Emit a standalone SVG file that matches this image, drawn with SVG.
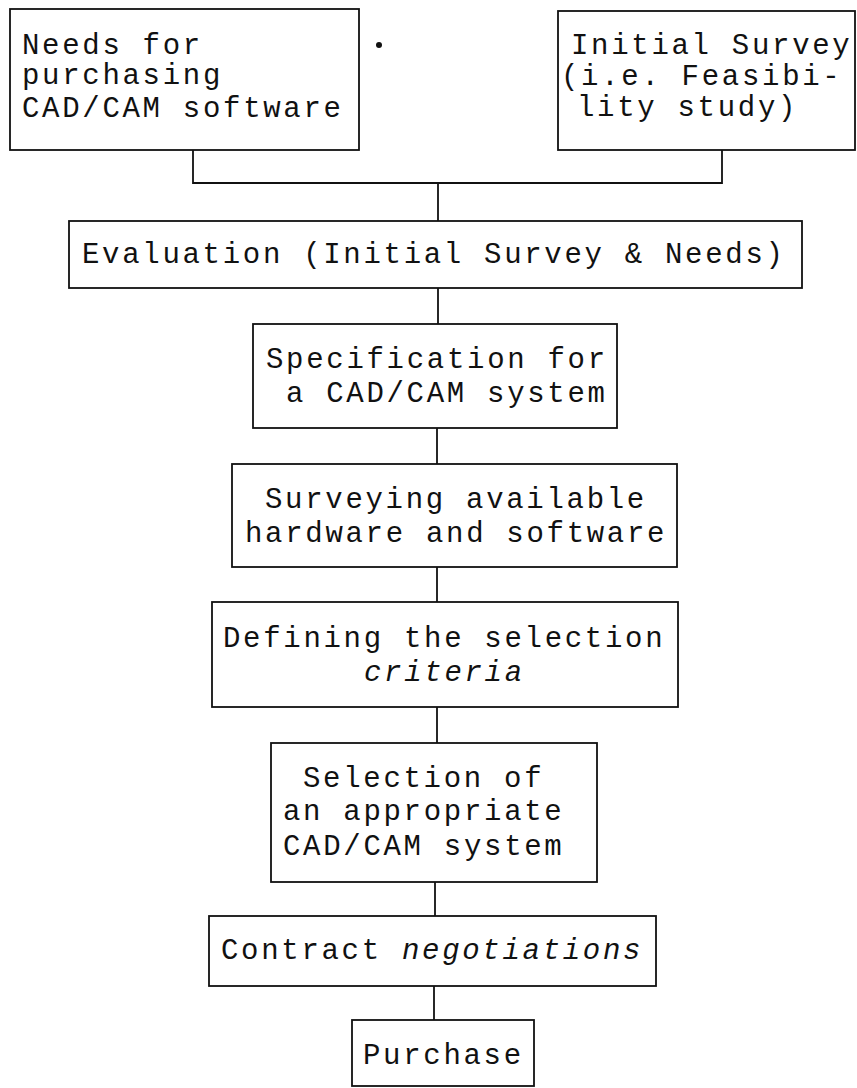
<svg xmlns="http://www.w3.org/2000/svg" width="857" height="1088" viewBox="0 0 857 1088">
<style>
.box{fill:#fff;stroke:#111;stroke-width:1.8}
.t{font-family:"Liberation Mono","Courier New",monospace;font-size:29px;letter-spacing:2.7px;fill:#111}
.i{font-style:italic}
.c{fill:none;stroke:#111;stroke-width:1.8}
</style>
<rect width="857" height="1088" fill="#fff"/>
<g id="connectors">
<path class="c" d="M193 150V183H722V150"/>
<path class="c" d="M438 183V221"/>
<path class="c" d="M438 288V324"/>
<path class="c" d="M437 428V464"/>
<path class="c" d="M437 567V602"/>
<path class="c" d="M437 707V743"/>
<path class="c" d="M435 882V916"/>
<path class="c" d="M434 986V1020"/>
</g>
<g id="needs">
<rect class="box" x="10" y="9" width="349" height="141"/>
<text class="t" x="22" y="54">Needs for</text>
<text class="t" x="22" y="84">purchasing</text>
<text class="t" x="22" y="117">CAD/CAM software</text>
</g>
<circle cx="379" cy="45" r="3" fill="#111"/>
<g id="survey">
<rect class="box" x="558" y="11" width="297" height="139"/>
<text class="t" x="571" y="54">Initial Survey</text>
<text class="t" x="561" y="85">(i.e. Feasibi-</text>
<text class="t" x="577" y="116">lity study)</text>
</g>
<g id="evaluation">
<rect class="box" x="69" y="221" width="733" height="67"/>
<text class="t" x="82" y="263">Evaluation (Initial Survey &amp; Needs)</text>
</g>
<g id="specification">
<rect class="box" x="253" y="324" width="364" height="104"/>
<text class="t" x="266" y="368">Specification for</text>
<text class="t" x="286" y="402">a CAD/CAM system</text>
</g>
<g id="surveying">
<rect class="box" x="232" y="464" width="445" height="103"/>
<text class="t" x="265" y="508">Surveying available</text>
<text class="t" x="245" y="542">hardware and software</text>
</g>
<g id="defining">
<rect class="box" x="212" y="602" width="466" height="105"/>
<text class="t" x="223" y="647">Defining the selection</text>
<text class="t i" x="364" y="681">criteria</text>
</g>
<g id="selection">
<rect class="box" x="271" y="743" width="326" height="139"/>
<text class="t" x="303" y="787">Selection of</text>
<text class="t" x="283" y="820">an appropriate</text>
<text class="t" x="283" y="855">CAD/CAM system</text>
</g>
<g id="contract">
<rect class="box" x="209" y="916" width="447" height="70"/>
<text class="t" x="221" y="959">Contract <tspan class="i">negotiations</tspan></text>
</g>
<g id="purchase">
<rect class="box" x="352" y="1020" width="182" height="66"/>
<text class="t" x="363" y="1064">Purchase</text>
</g>
</svg>
